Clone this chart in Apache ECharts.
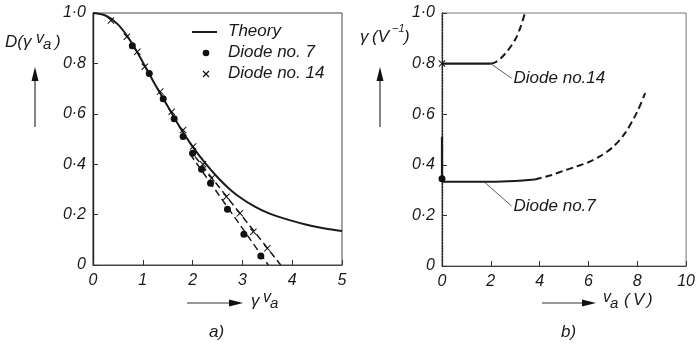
<!DOCTYPE html>
<html>
<head>
<meta charset="utf-8">
<script src="https://cdn.jsdelivr.net/npm/echarts@6/dist/echarts.min.js"></script>
<style>
  html, body { margin: 0; padding: 0; background: #fff; }
  #chart { width: 698px; height: 348px; }
</style>
</head>
<body>
<div id="chart"></div>
<script>
// ---- panel a): D(γ v_a) versus γ v_a ----
var theoryX = [0, 0.25, 0.5, 0.75, 1, 1.25, 1.5, 1.75, 2, 2.25, 2.5, 2.75, 3, 3.25, 3.5, 3.75, 4, 4.25, 4.5, 4.75, 5];
var theoryY = [1.0, 0.99, 0.955, 0.89, 0.805, 0.715, 0.63, 0.545, 0.47, 0.405, 0.348, 0.3, 0.262, 0.232, 0.208, 0.19, 0.175, 0.162, 0.151, 0.142, 0.135];

var diode7X = [0.79, 1.13, 1.41, 1.63, 1.81, 2.00, 2.18, 2.36, 2.70, 3.03, 3.37];
var diode7Y = [0.87, 0.76, 0.66, 0.58, 0.51, 0.443, 0.38, 0.324, 0.221, 0.122, 0.036];

var diode14X = [0.36, 0.68, 0.89, 1.04, 1.35, 1.58, 1.81, 2.01, 2.21, 2.38, 2.68, 2.95, 3.22, 3.50];
var diode14Y = [0.97, 0.906, 0.846, 0.787, 0.688, 0.608, 0.536, 0.47, 0.40, 0.344, 0.271, 0.205, 0.132, 0.066];

// straight-line fits through the measured points (dashed)
var fit7X = [1.95, 3.52];
var fit7Y = [0.44, 0];
var fit14X = [2.05, 3.77];
var fit14Y = [0.43, 0];

var legendNames = ['Theory', 'Diode no. 7', 'Diode no. 14'];

// ---- panel b): γ versus v_a ----
var g14SolidX = [0, 2];
var g14SolidY = [0.8, 0.8];
var g14DashX = [2, 2.2, 2.4, 2.7, 3.0, 3.2, 3.4];
var g14DashY = [0.8, 0.806, 0.82, 0.852, 0.895, 0.94, 1.0];

var g7SolidX = [0, 1, 2, 3, 3.8];
var g7SolidY = [0.333, 0.333, 0.333, 0.336, 0.342];
var g7DashX = [3.8, 4.5, 5, 5.5, 6, 6.5, 7, 7.5, 8, 8.32];
var g7DashY = [0.342, 0.36, 0.377, 0.393, 0.41, 0.435, 0.47, 0.525, 0.61, 0.683];

var g7RiseX = [0, 0];
var g7RiseY = [0.333, 0.51];

var g7Point = [0, 0.345];
var g14Point = [0, 0.8];

var lead14X = [1.99, 2.85];
var lead14Y = [0.8, 0.742];
var lead7X = [1.72, 2.85];
var lead7Y = [0.333, 0.237];

function pairs(xs, ys) {
  return xs.map(function (x, i) { return [x, ys[i]]; });
}

var FONT = 'Liberation Sans';
var INK = '#1a1a1a';
var CROSS = 'path://M0,1L1,0L5,4L9,0L10,1L6,5L10,9L9,10L5,6L1,10L0,9L4,5Z';

function fmtY(v) {
  return v === 0 ? '0' : v.toFixed(1).replace('.', '\u00b7');
}

var tickLabel = {
  fontFamily: FONT, fontStyle: 'italic', fontSize: 16, color: INK
};

function xAxisCfg(grid, max, interval) {
  return {
    type: 'value', gridIndex: grid, min: 0, max: max, interval: interval,
    axisLine: { show: true, lineStyle: { color: '#444', width: 1 } },
    axisTick: { show: true, inside: true, length: 5, lineStyle: { color: '#333' } },
    axisLabel: Object.assign({ margin: 8, formatter: function (v) { return String(v); } }, tickLabel),
    splitLine: { show: false }
  };
}
function yAxisCfg(grid, lineType) {
  return {
    type: 'value', gridIndex: grid, min: 0, max: 1, interval: 0.2,
    axisLine: { show: true, lineStyle: { color: '#222', width: 1.4, type: lineType } },
    axisTick: { show: true, inside: true, length: 5, lineStyle: { color: '#333' } },
    axisLabel: Object.assign({ margin: 7, formatter: fmtY }, tickLabel),
    splitLine: { show: false }
  };
}

function solid(name, data, xi, w) {
  return {
    name: name, type: 'line', xAxisIndex: xi, yAxisIndex: xi, data: data,
    smooth: 0.3, symbol: 'none', silent: true,
    itemStyle: { color: INK },
    lineStyle: { color: INK, width: w || 2 }
  };
}
function dashed(name, data, xi, w) {
  return {
    name: name, type: 'line', xAxisIndex: xi, yAxisIndex: xi, data: data,
    smooth: 0.3, symbol: 'none', silent: true,
    itemStyle: { color: INK },
    lineStyle: { color: INK, width: w || 1.8, type: [7, 4] }
  };
}
function leader(data, text) {
  return {
    type: 'line', xAxisIndex: 1, yAxisIndex: 1, data: data, symbol: 'none', silent: true,
    itemStyle: { color: '#333' },
    lineStyle: { color: '#333', width: 0.8 },
    endLabel: {
      show: true, formatter: text, distance: 2,
      fontFamily: FONT, fontStyle: 'italic', fontSize: 17, color: INK
    }
  };
}

function txt(x, y, s, size, extra) {
  return {
    type: 'text', left: x, top: y,
    style: Object.assign({
      text: s, font: 'italic ' + (size || 17) + 'px "' + FONT + '"', fill: INK
    }, extra || {})
  };
}
function hArrow(x1, x2, y) {
  return [
    { type: 'line', shape: { x1: x1, y1: y, x2: x2 - 12, y2: y }, style: { stroke: '#333', lineWidth: 1.2 } },
    { type: 'polygon', shape: { points: [[x2 - 14, y - 3.5], [x2, y], [x2 - 14, y + 3.5]] }, style: { fill: '#111' } }
  ];
}
function vArrow(x, y1, y2) {
  return [
    { type: 'line', shape: { x1: x, y1: y1, x2: x, y2: y2 + 12 }, style: { stroke: '#333', lineWidth: 1.2 } },
    { type: 'polygon', shape: { points: [[x - 3.5, y2 + 14], [x, y2], [x + 3.5, y2 + 14]] }, style: { fill: '#111' } }
  ];
}

// key for panel a): solid line, dot, cross
var legendKey = [
  { type: 'line', shape: { x1: 192, y1: 32, x2: 217, y2: 32 }, style: { stroke: INK, lineWidth: 2 } },
  { type: 'circle', shape: { cx: 206, cy: 53, r: 3.3 }, style: { fill: '#111' } },
  { type: 'line', shape: { x1: 203, y1: 71, x2: 209, y2: 77 }, style: { stroke: '#111', lineWidth: 1.3 } },
  { type: 'line', shape: { x1: 209, y1: 71, x2: 203, y2: 77 }, style: { stroke: '#111', lineWidth: 1.3 } },
  txt(228, 23, legendNames[0], 17),
  txt(228, 44, legendNames[1], 17),
  txt(228, 65, legendNames[2], 17)
];

var chart = echarts.init(document.getElementById('chart'), null, { renderer: 'canvas' });

var graphics = legendKey
  // axis titles, panel a)
  .concat([txt(5, 34, 'D(\u03b3', 17), txt(36, 31, 'v', 16), txt(43, 37, 'a', 15), txt(55, 34, ')', 17)])
  .concat(vArrow(35, 127, 67))
  .concat(hArrow(187, 243, 303))
  .concat([txt(251, 293, '\u03b3', 17), txt(263, 290, 'v', 16), txt(270, 296, 'a', 15)])
  .concat([txt(209, 324, 'a)', 17)])
  // axis titles, panel b)
  .concat([txt(360, 29, '\u03b3', 17), txt(372, 29, '(V', 17), txt(392, 23, '\u22121', 11), txt(404, 29, ')', 17)])
  .concat(vArrow(380, 127, 67))
  .concat(hArrow(542, 596, 303))
  .concat([txt(603, 290, 'v', 16), txt(610, 296, 'a', 15), txt(624, 292, '(', 17), txt(633, 292, 'V', 17), txt(647, 292, ')', 17)])
  .concat([txt(561, 324, 'b)', 17)]);

var option = {
  animation: false,
  backgroundColor: '#fff',
  grid: [
    { left: 93, top: 13, width: 249, height: 252, show: true, borderColor: '#444', borderWidth: 1, backgroundColor: 'transparent' },
    { left: 442, top: 13, width: 250, height: 253, show: true, borderColor: '#777', borderWidth: 1, backgroundColor: 'transparent' }
  ],
  xAxis: [xAxisCfg(0, 5, 1), xAxisCfg(1, 10, 2)],
  yAxis: [yAxisCfg(0, 'solid'), yAxisCfg(1, 'dotted')],
  graphic: graphics,
  series: [
    solid(legendNames[0], pairs(theoryX, theoryY), 0, 2),
    dashed('fit7', pairs(fit7X, fit7Y), 0, 1.5),
    dashed('fit14', pairs(fit14X, fit14Y), 0, 1.5),
    {
      name: legendNames[1], type: 'scatter', xAxisIndex: 0, yAxisIndex: 0,
      data: pairs(diode7X, diode7Y), symbol: 'circle', symbolSize: 7,
      itemStyle: { color: '#111', opacity: 1 }, z: 5
    },
    {
      name: legendNames[2], type: 'scatter', xAxisIndex: 0, yAxisIndex: 0,
      data: pairs(diode14X, diode14Y), symbol: CROSS, symbolSize: 7,
      itemStyle: { color: '#111', opacity: 1 }, z: 5
    },
    // panel b)
    solid('g14s', pairs(g14SolidX, g14SolidY), 1, 2.2),
    dashed('g14d', pairs(g14DashX, g14DashY), 1, 2),
    solid('g7s', pairs(g7SolidX, g7SolidY), 1, 2.2),
    dashed('g7d', pairs(g7DashX, g7DashY), 1, 2),
    solid('g7r', pairs(g7RiseX, g7RiseY), 1, 2.2),
    {
      type: 'scatter', xAxisIndex: 1, yAxisIndex: 1, data: [g7Point],
      symbol: 'circle', symbolSize: 7, itemStyle: { color: '#111', opacity: 1 }, z: 6
    },
    {
      type: 'scatter', xAxisIndex: 1, yAxisIndex: 1, data: [g14Point],
      symbol: CROSS, symbolSize: 7, itemStyle: { color: '#111', opacity: 1 }, z: 6
    },
    leader(pairs(lead14X, lead14Y), 'Diode no.14'),
    leader(pairs(lead7X, lead7Y), 'Diode no.7')
  ]
};

chart.setOption(option);
</script>
</body>
</html>
